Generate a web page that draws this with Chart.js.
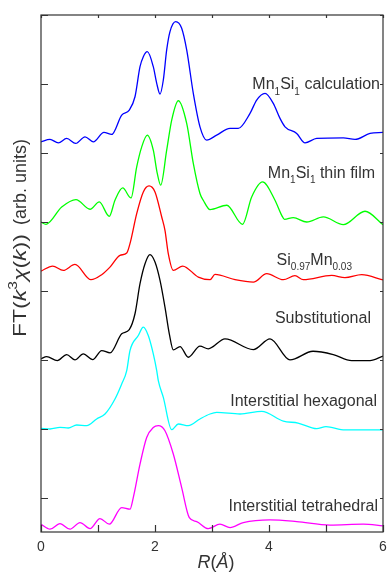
<!DOCTYPE html>
<html><head><meta charset="utf-8">
<script src="https://cdn.jsdelivr.net/npm/chart.js@4/dist/chart.umd.min.js"></script>
<style>html,body{margin:0;padding:0;background:#fff;}#wrap{width:387px;height:572px;position:relative;}</style>
</head><body><div id="wrap"><canvas id="c"></canvas></div>
<script>
// ---- data (R in Å, FT magnitude in arbitrary units incl. vertical offset) ----
const blueR = [0,0.158,0.304,0.451,0.609,0.772,0.918,1.105,1.240,1.416,1.549,1.649,1.737,1.795,1.865,1.970,2.030,2.088,2.146,2.205,2.263,2.363,2.468,2.556,2.672,2.789,2.907,3.082,3.316,3.461,3.667,3.784,3.930,4.075,4.193,4.281,4.486,4.632,4.837,5.304,5.509,5.772,6.0];
const blueY = [5.160,5.195,5.145,5.209,5.137,5.233,5.160,5.297,5.267,5.548,5.621,5.814,6.250,6.395,6.468,6.250,6.009,5.853,6.057,6.493,6.759,6.904,6.808,6.493,5.863,5.378,5.185,5.257,5.355,5.355,5.573,5.766,5.863,5.718,5.500,5.378,5.282,5.145,5.209,5.218,5.195,5.282,5.297];

const greenR = [0,0.088,0.363,0.614,0.860,1.023,1.198,1.298,1.433,1.579,1.679,1.767,1.865,1.970,2.040,2.100,2.205,2.293,2.409,2.556,2.672,2.789,2.847,2.965,3.258,3.535,3.696,3.886,4.105,4.223,4.272,4.426,4.661,4.953,5.304,5.684,6.0];
const greenY = [3.997,3.964,4.215,4.323,4.182,4.288,4.080,4.313,4.491,4.346,4.797,5.087,5.257,5.039,4.701,4.531,5.039,5.475,5.756,5.427,4.846,4.410,4.313,4.177,4.240,3.964,4.360,4.578,4.313,4.094,4.036,4.061,3.997,4.070,3.959,4.153,3.959];

const redR = [0,0.205,0.391,0.596,0.877,1.064,1.210,1.386,1.504,1.561,1.679,1.795,1.895,2.000,2.118,2.175,2.233,2.321,2.486,2.760,2.965,3.053,3.404,3.725,3.960,4.251,4.456,4.602,5.100,5.333,5.626,6.0];
const redY = [3.285,3.358,3.295,3.382,3.160,3.233,3.343,3.513,3.547,3.683,4.119,4.433,4.520,4.433,4.070,3.876,3.538,3.295,3.358,3.198,3.160,3.237,3.160,3.125,3.247,3.160,3.218,3.160,3.222,3.189,3.233,3.157];

const blackR = [0,0.100,0.286,0.451,0.596,0.742,0.907,1.065,1.211,1.416,1.549,1.649,1.737,1.825,1.912,2.000,2.088,2.175,2.251,2.321,2.439,2.584,2.789,2.935,3.228,3.725,4.018,4.368,4.772,5.128,5.451,5.772,6.0];
const blackY = [2.012,2.045,1.987,2.074,1.997,2.084,2.001,2.132,2.099,2.375,2.437,2.666,3.102,3.392,3.523,3.416,3.150,2.762,2.375,2.142,2.190,2.035,2.195,2.157,2.302,2.147,2.302,1.997,2.122,2.074,1.987,1.987,2.052];

const cyanR = [0,0.158,0.333,0.479,0.626,0.802,0.977,1.123,1.298,1.416,1.504,1.561,1.707,1.795,1.882,1.970,2.030,2.058,2.146,2.293,2.409,2.584,2.789,2.965,3.082,3.491,3.872,4.251,4.509,4.837,5.000,5.333,6.0];
const cyanY = [1.003,0.994,1.017,1.009,1.052,1.042,1.140,1.212,1.430,1.648,1.842,2.132,2.350,2.471,2.350,2.084,1.842,1.696,1.453,0.984,1.067,1.042,1.140,1.212,1.235,1.212,1.250,1.108,1.081,0.999,1.028,0.981,0.981];

const magentaR = [0,0.158,0.333,0.509,0.684,0.860,1.035,1.198,1.416,1.561,1.619,1.737,1.854,1.970,2.058,2.175,2.321,2.468,2.602,2.732,2.935,3.140,3.316,3.549,4.018,4.486,5.070,5.654,6.0];
const magentaY = [-0.387,-0.459,-0.378,-0.459,-0.363,-0.451,-0.305,-0.387,-0.145,-0.169,0.000,0.485,0.872,1.017,1.042,0.969,0.631,0.145,-0.291,-0.349,-0.451,-0.387,-0.436,-0.363,-0.324,-0.349,-0.401,-0.387,-0.411];

const xTickValues = [0,1,2,3,4,5,6];
const xTickLabels = ['0','','2','','4','','6'];
const yTickValues = [0,1,2,3,4,5,6,7];

// series label texts (segments: sub = subscript)
const seriesNames = [
  [{t:'Mn'},{t:'1',sub:true},{t:'Si'},{t:'1',sub:true},{t:' calculation'}],
  [{t:'Mn'},{t:'1',sub:true},{t:'Si'},{t:'1',sub:true},{t:' thin film'}],
  [{t:'Si'},{t:'0.97',sub:true},{t:'Mn'},{t:'0.03',sub:true}],
  [{t:'Substitutional'}],
  [{t:'Interstitial hexagonal'}],
  [{t:'Interstitial tetrahedral'}]
];
// ---- layout (anchor of right edge of each label, in axis units) ----
const labelAnchors = [[5.947,5.984],[5.860,4.705],[5.456,3.441],[5.789,2.597],[5.895,1.391],[5.912,-0.131]];

function pts(xs, ys){ return xs.map((x,i)=>({x:x, y:ys[i]})); }
function ds(xs, ys, color){
  return {data: pts(xs,ys), borderColor: color, borderWidth: 1.3, pointRadius: 0,
          fill:false, cubicInterpolationMode:'monotone', tension:0.4};
}

const FONT = '"Liberation Sans", Arial, Helvetica, sans-serif';
const TXT = '#333333';

function fontFor(s, size){
  let sz = s.sub ? Math.round(size*0.62) : (s.sup ? Math.round(size*0.66) : size);
  return (s.it ? 'italic ' : '') + sz + 'px ' + FONT;
}
function measureRich(ctx, segs, size){
  let w = 0;
  segs.forEach(s=>{ ctx.font = fontFor(s,size); w += ctx.measureText(s.t).width; });
  return w;
}
function drawRich(ctx, segs, x, y, align, size){
  const w = measureRich(ctx, segs, size);
  let cx = align==='right' ? x - w : (align==='center' ? x - w/2 : x);
  ctx.textAlign = 'left';
  ctx.textBaseline = 'middle';
  segs.forEach(s=>{
    ctx.font = fontFor(s,size);
    let dy = s.sub ? size*0.45 : (s.sup ? -size*0.4 : 0);
    ctx.fillText(s.t, cx, y + dy);
    cx += ctx.measureText(s.t).width;
  });
}

const decor = {
  id:'decor',
  afterDatasetsDraw(chart){
    const ctx = chart.ctx, a = chart.chartArea;
    const xs = chart.scales.x, ys = chart.scales.y;
    ctx.save();
    ctx.strokeStyle = '#333';
    ctx.lineWidth = 1.2;
    ctx.strokeRect(a.left, a.top, a.right - a.left, a.bottom - a.top);
    ctx.beginPath();
    xTickValues.forEach(v=>{
      const px = Math.round(xs.getPixelForValue(v)) + 0.5;
      ctx.moveTo(px, a.bottom); ctx.lineTo(px, a.bottom - 7);
      ctx.moveTo(px, a.top); ctx.lineTo(px, a.top + 3);
    });
    yTickValues.forEach(v=>{
      const py = Math.round(ys.getPixelForValue(v)) + 0.5;
      ctx.moveTo(a.left, py); ctx.lineTo(a.left + 7, py);
      ctx.moveTo(a.right, py); ctx.lineTo(a.right - 3, py);
    });
    ctx.stroke();

    ctx.fillStyle = TXT;
    ctx.font = '14px ' + FONT;
    ctx.textAlign = 'center'; ctx.textBaseline = 'middle';
    xTickValues.forEach((v,i)=>{
      if (xTickLabels[i]) ctx.fillText(xTickLabels[i], xs.getPixelForValue(v), a.bottom + 15);
    });

    // x axis title
    drawRich(ctx, [{t:'R',it:true},{t:'('},{t:'Å',it:true},{t:')'}], (a.left+a.right)/2 + 4, a.bottom + 31, 'center', 18);

    // y axis title (rotated); first part stretched along the text direction
    const part1 = [{t:'FT('},{t:'k',it:true},{t:'3',sup:true},{t:'χ',it:true},{t:'('},{t:'k',it:true},{t:'))'}];
    const part2 = [{t:'(arb. units)'}];
    ctx.save();
    ctx.translate(21, 0);
    ctx.rotate(-Math.PI/2);
    const startU = -(a.top + (a.bottom - a.top) * 0.623);   // bottom end of the title
    const span1 = 103;
    const w1 = measureRich(ctx, part1, 19);
    ctx.save();
    ctx.translate(startU, 0);
    ctx.scale(span1 / w1, 1);
    drawRich(ctx, part1, 0, 0, 'left', 19);
    ctx.restore();
    drawRich(ctx, part2, startU + span1 + 9, 0, 'left', 18);
    ctx.restore();

    // series labels
    seriesNames.forEach((segs,i)=>{
      const px = xs.getPixelForValue(labelAnchors[i][0]);
      const py = ys.getPixelForValue(labelAnchors[i][1]);
      drawRich(ctx, segs, px, py, 'right', 16);
    });
    ctx.restore();
  }
};

new Chart(document.getElementById('c'), {
  type:'line',
  data:{ datasets:[
    ds(blueR, blueY, '#0000ff'),
    ds(greenR, greenY, '#00ff00'),
    ds(redR, redY, '#ff0000'),
    ds(blackR, blackY, '#000000'),
    ds(cyanR, cyanY, '#00ffff'),
    ds(magentaR, magentaY, '#ff00ff')
  ]},
  options:{
    responsive:true, maintainAspectRatio:false, animation:false,
    layout:{padding:{left:41, right:4, top:15, bottom:40}},
    scales:{
      x:{type:'linear', min:0, max:6, display:false},
      y:{type:'linear', min:-0.5, max:7, display:false}
    },
    plugins:{legend:{display:false}, tooltip:{enabled:false}}
  },
  plugins:[decor]
});
</script></body></html>
